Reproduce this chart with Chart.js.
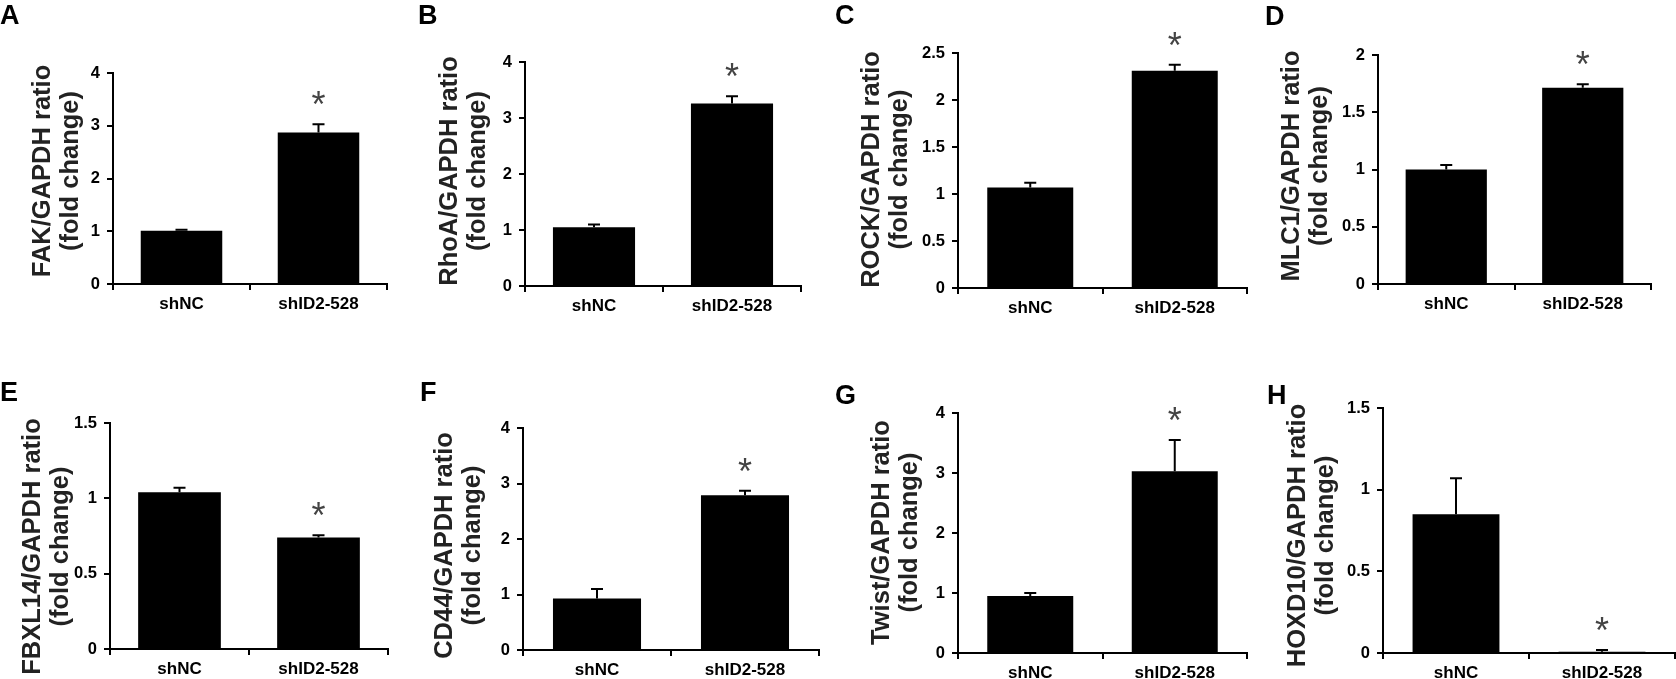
<!DOCTYPE html>
<html>
<head>
<meta charset="utf-8">
<script src="https://cdn.jsdelivr.net/npm/chart.js@4.4.1/dist/chart.umd.min.js"></script>
<style>
  html, body { margin: 0; padding: 0; background: #fff; width: 1676px; height: 679px; overflow: hidden; }
  #wrap { position: relative; width: 1676px; height: 679px; }
  canvas { position: absolute; }
  .lbl { position: absolute; font-family: "Liberation Sans", Arial, sans-serif; font-weight: bold; font-size: 27px; line-height: 27px; color: #000; z-index: 5; }
</style>
</head>
<body>
<div id="wrap"></div>
<script>
// ---------------- DATA ----------------
const categories = ["shNC", "shID2-528"];
const panelLetters = ["A", "B", "C", "D", "E", "F", "G", "H"];
const yTitles = [
  ["FAK/GAPDH ratio", "(fold change)"],
  ["RhoA/GAPDH ratio", "(fold change)"],
  ["ROCK/GAPDH ratio", "(fold change)"],
  ["MLC1/GAPDH ratio", "(fold change)"],
  ["FBXL14/GAPDH ratio", "(fold change)"],
  ["CD44/GAPDH ratio", "(fold change)"],
  ["Twist/GAPDH ratio", "(fold change)"],
  ["HOXD10/GAPDH ratio", "(fold change)"]
];
const fakMean    = [1.01, 2.87];  const fakErr    = [0.02, 0.16];
const rhoaMean   = [1.05, 3.26];  const rhoaErr   = [0.05, 0.13];
const rockMean   = [1.07, 2.31];  const rockErr   = [0.05, 0.065];
const mlc1Mean   = [1.00, 1.715]; const mlc1Err   = [0.04, 0.03];
const fbxl14Mean = [1.04, 0.74];  const fbxl14Err = [0.03, 0.015];
const cd44Mean   = [0.93, 2.79];  const cd44Err   = [0.17, 0.08];
const twistMean  = [0.95, 3.03];  const twistErr  = [0.05, 0.52];
const hoxd10Mean = [0.85, 0.008]; const hoxd10Err = [0.22, 0.01];
const significant = [false, true];

const yTicks4  = [0, 1, 2, 3, 4];
const yTicks25 = [0, 0.5, 1, 1.5, 2, 2.5];
const yTicks2  = [0, 0.5, 1, 1.5, 2];
const yTicks15 = [0, 0.5, 1, 1.5];

const panelMeans = [fakMean, rhoaMean, rockMean, mlc1Mean, fbxl14Mean, cd44Mean, twistMean, hoxd10Mean];
const panelErrs  = [fakErr, rhoaErr, rockErr, mlc1Err, fbxl14Err, cd44Err, twistErr, hoxd10Err];
const panelTicks = [yTicks4, yTicks4, yTicks25, yTicks2, yTicks15, yTicks4, yTicks4, yTicks15];

// ---------------- LAYOUT (positions only) ----------------
// axis: x of y-axis line; top: pixel of max tick; bottom: pixel of 0; right: end of x axis
// tOff: x offset of first title line from axis; tDy: vertical shift of title centre vs plot centre
const layout = [
  { axis: 113,  top: 73,  bottom: 284, right: 387,  tOff: -70, tDy: -7.5, lx: 0,    ly: 2 },
  { axis: 525,  top: 62,  bottom: 286, right: 801,  tOff: -75, tDy: -3,   lx: 418,  ly: 2 },
  { axis: 958,  top: 53,  bottom: 288, right: 1247, tOff: -86, tDy: -1,   lx: 835,  ly: 2 },
  { axis: 1378, top: 55,  bottom: 284, right: 1651, tOff: -86, tDy: -3.5, lx: 1265, ly: 3 },
  { axis: 110,  top: 423, bottom: 649, right: 388,  tOff: -77, tDy: 10.5, lx: 0,    ly: 379 },
  { axis: 523,  top: 428, bottom: 650, right: 819,  tOff: -78, tDy: 6.5,  lx: 420,  ly: 379 },
  { axis: 958,  top: 413, bottom: 653, right: 1247, tOff: -76, tDy: -0.5, lx: 835,  ly: 382 },
  { axis: 1383, top: 408, bottom: 653, right: 1675, tOff: -85, tDy: 5,    lx: 1267, ly: 382 }
];

const FONT = '"Liberation Sans", Arial, sans-serif';
const L = 120, T = 45, R = 10, B = 45;
const TITLE_SIZE = 25.5, TITLE_LH = 28;

function makeErrPlugin(means, errs, sig) {
  return {
    id: 'errbars',
    afterDatasetsDraw(chart) {
      const ctx = chart.ctx;
      const meta = chart.getDatasetMeta(0);
      const ys = chart.scales.y;
      meta.data.forEach((bar, i) => {
        const y0 = ys.getPixelForValue(means[i]);
        const y1 = ys.getPixelForValue(means[i] + errs[i]);
        ctx.save();
        ctx.strokeStyle = '#000';
        ctx.lineWidth = 2;
        ctx.beginPath();
        ctx.moveTo(bar.x, y0);
        ctx.lineTo(bar.x, y1);
        ctx.moveTo(bar.x - 6, y1);
        ctx.lineTo(bar.x + 6, y1);
        ctx.stroke();
        if (sig[i]) {
          ctx.fillStyle = '#444';
          ctx.font = '36px ' + FONT;
          ctx.textAlign = 'center';
          ctx.textBaseline = 'alphabetic';
          ctx.fillText('*', bar.x, y1 - 7);
        }
        ctx.restore();
      });
    }
  };
}

function makeTitlePlugin(lines, tOff, tDy) {
  return {
    id: 'ytitle',
    afterDraw(chart) {
      const ctx = chart.ctx;
      const area = chart.chartArea;
      const cy = (area.top + area.bottom) / 2 + tDy;
      ctx.save();
      ctx.fillStyle = '#222';
      ctx.font = 'bold ' + TITLE_SIZE + 'px ' + FONT;
      ctx.textAlign = 'center';
      ctx.textBaseline = 'middle';
      lines.forEach((line, j) => {
        ctx.save();
        ctx.translate(area.left + tOff + j * TITLE_LH, cy);
        ctx.rotate(-Math.PI / 2);
        ctx.fillText(line, 0, 0);
        ctx.restore();
      });
      ctx.restore();
    }
  };
}

const wrap = document.getElementById('wrap');

layout.forEach((p, k) => {
  const letter = document.createElement('div');
  letter.className = 'lbl';
  letter.style.left = p.lx + 'px';
  letter.style.top = p.ly + 'px';
  letter.textContent = panelLetters[k];
  wrap.appendChild(letter);

  const cv = document.createElement('canvas');
  const w = (p.right - p.axis) + L + R;
  const h = (p.bottom - p.top) + T + B;
  cv.width = w; cv.height = h;
  cv.style.width = w + 'px'; cv.style.height = h + 'px';
  cv.style.left = (p.axis - L) + 'px';
  cv.style.top = (p.top - T) + 'px';
  wrap.appendChild(cv);

  const ticks = panelTicks[k];

  new Chart(cv, {
    type: 'bar',
    data: {
      labels: categories,
      datasets: [{
        data: panelMeans[k],
        backgroundColor: '#000',
        borderWidth: 0,
        barPercentage: 0.595,
        categoryPercentage: 1.0
      }]
    },
    options: {
      responsive: false,
      animation: false,
      layout: { padding: { left: 0, top: T, right: R, bottom: 0 } },
      plugins: { legend: { display: false }, tooltip: { enabled: false } },
      scales: {
        x: {
          offset: true,
          grid: { display: true, drawOnChartArea: false, drawTicks: true, tickLength: 6, color: '#000', lineWidth: 2, offset: true },
          border: { display: true, color: '#000', width: 2 },
          ticks: { color: '#000', padding: 4, font: { family: FONT, size: 17, weight: 'bold' }, maxRotation: 0 },
          afterFit: s => { s.height = B; }
        },
        y: {
          min: 0,
          max: ticks[ticks.length - 1],
          afterBuildTicks: s => { s.ticks = ticks.map(v => ({ value: v })); },
          grid: { display: true, drawOnChartArea: false, drawTicks: true, tickLength: 6, color: '#000', lineWidth: 2 },
          border: { display: true, color: '#000', width: 2 },
          ticks: { color: '#000', padding: 7, font: { family: FONT, size: 16.5, weight: 'bold' }, callback: v => String(v) },
          title: { display: false },
          afterFit: s => { s.width = L; }
        }
      }
    },
    plugins: [makeErrPlugin(panelMeans[k], panelErrs[k], significant), makeTitlePlugin(yTitles[k], p.tOff, p.tDy)]
  });
});
</script>
</body>
</html>
